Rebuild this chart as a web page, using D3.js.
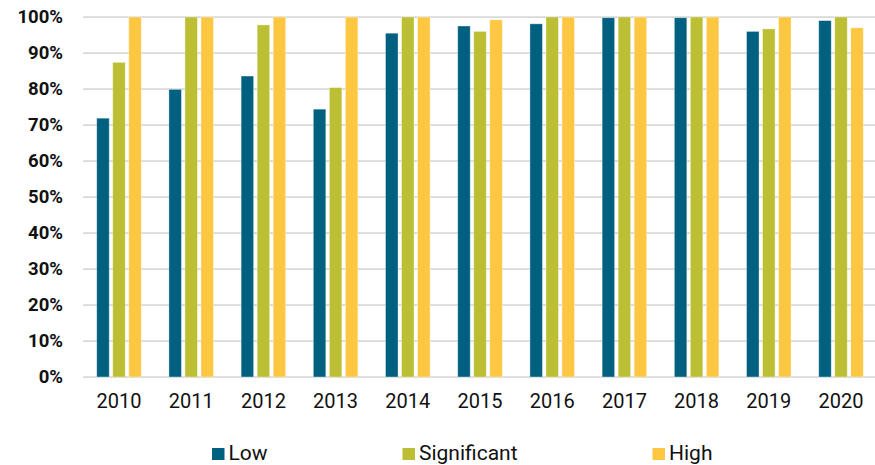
<!DOCTYPE html>
<html>
<head>
<meta charset="utf-8">
<script src="https://cdn.jsdelivr.net/npm/d3@7"></script>
<style>
  body { margin: 0; background: #fff; }
  svg { display: block; font-family: Roboto, "Noto Sans", sans-serif; }
</style>
</head>
<body>
<svg id="chart" width="875" height="465"></svg>
<script>
const years = ["2010","2011","2012","2013","2014","2015","2016","2017","2018","2019","2020"];
const seriesNames = ["Low", "Significant", "High"];
const lowValues = [71.9, 79.9, 83.6, 74.4, 95.5, 97.5, 98.1, 99.8, 99.8, 96.0, 99.0];
const significantValues = [87.4, 100, 97.8, 80.4, 100, 96.0, 100, 100, 100, 96.7, 100];
const highValues = [100, 100, 100, 100, 100, 99.2, 100, 100, 100, 100, 97.0];
const yTicks = [0, 10, 20, 30, 40, 50, 60, 70, 80, 90, 100];
const colors = ["#00607f", "#bcbf34", "#fdc742"];

const series = [lowValues, significantValues, highValues];
const svg = d3.select("#chart");

const plotLeft = 83, plotRight = 877, plotTop = 17, plotBottom = 377;

const x0 = d3.scaleBand().domain(years).range([plotLeft, plotRight])
  .paddingInner(0.383).paddingOuter(0.19);
const x1 = d3.scaleBand().domain(seriesNames).range([0, x0.bandwidth()])
  .paddingInner(0.22).paddingOuter(0);
const y = d3.scaleLinear().domain([0, 100]).range([plotBottom, plotTop]);

// gridlines
svg.append("g")
  .selectAll("line")
  .data(yTicks)
  .join("line")
  .attr("x1", plotLeft).attr("x2", 875)
  .attr("y1", d => y(d)).attr("y2", d => y(d))
  .attr("stroke", "#d9d9d9")
  .attr("stroke-width", 1.75);

// y labels
const yAxis = svg.append("g")
  .attr("transform", `translate(${plotLeft},0)`)
  .call(d3.axisLeft(y).tickValues(yTicks).tickFormat(d => d + "%").tickSize(0).tickPadding(20));
yAxis.select(".domain").remove();
yAxis.selectAll("text")
  .attr("font-size", 18.5)
  .attr("font-weight", "bold")
  .attr("fill", "#111")
  .attr("font-family", "Roboto, sans-serif");

// bars
const groups = svg.append("g")
  .selectAll("g")
  .data(years)
  .join("g")
  .attr("transform", d => `translate(${x0(d)},0)`);

groups.selectAll("rect")
  .data((d, i) => seriesNames.map((s, j) => ({ key: s, value: series[j][i], idx: j })))
  .join("rect")
  .attr("x", d => x1(d.key))
  .attr("width", x1.bandwidth())
  .attr("y", d => y(d.value))
  .attr("height", d => y(0) - y(d.value))
  .attr("fill", d => colors[d.idx])
  .attr("stroke", "#ffffff")
  .attr("stroke-opacity", 0.45)
  .attr("stroke-width", 0.8);

// x labels
const xAxis = svg.append("g")
  .attr("transform", `translate(0,${plotBottom})`)
  .call(d3.axisBottom(x0).tickSize(0).tickPadding(17));
xAxis.select(".domain").remove();
xAxis.selectAll("text")
  .attr("font-size", 20)
  .attr("fill", "#111")
  .attr("font-family", "Roboto, sans-serif");

// legend
const legendX = [212, 402.5, 652.5];
const legend = svg.append("g")
  .selectAll("g")
  .data(seriesNames)
  .join("g")
  .attr("transform", (d, i) => `translate(${legendX[i]},448)`);
legend.append("rect")
  .attr("width", 12.5).attr("height", 12)
  .attr("fill", (d, i) => colors[i]);
legend.append("text")
  .attr("x", 16.5).attr("y", 12)
  .attr("font-size", 21)
  .attr("fill", "#111")
  .text(d => d);
</script>
</body>
</html>
